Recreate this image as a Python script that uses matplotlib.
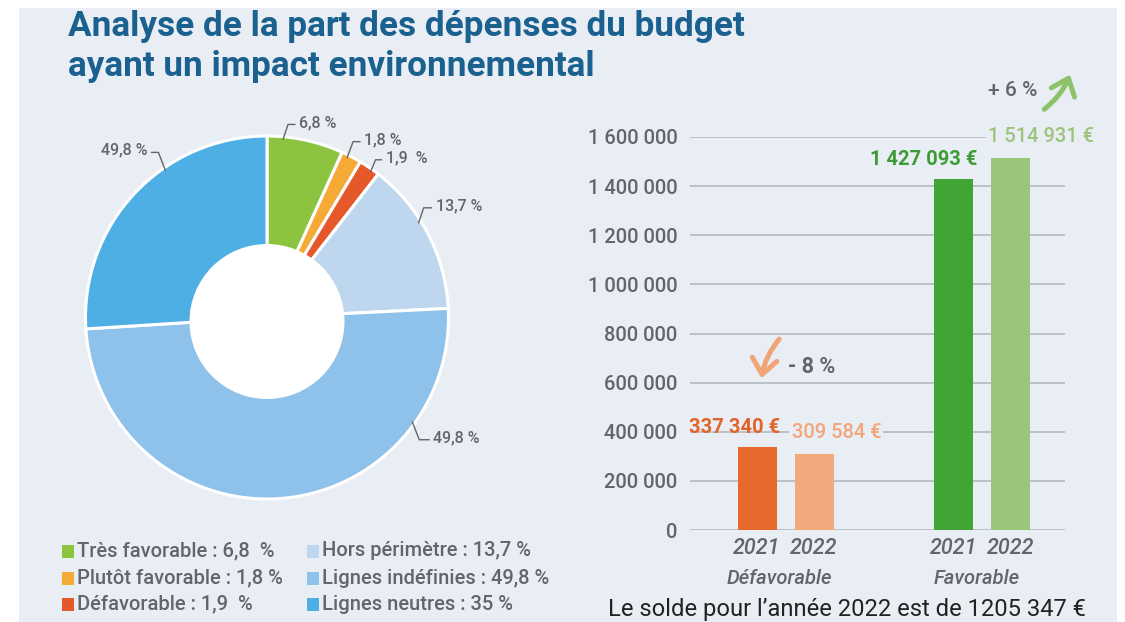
import matplotlib
matplotlib.use("Agg")
import matplotlib.pyplot as plt
from matplotlib import font_manager as fm
from matplotlib.patches import Rectangle, Circle, FancyArrowPatch
import numpy as np

# ---------------------------------------------------------------- data
pie_categories = ["Très favorable", "Plutôt favorable", "Défavorable",
                  "Hors périmètre", "Lignes indéfinies", "Lignes neutres"]
legend_texts = ["Très favorable : 6,8  %", "Plutôt favorable : 1,8 %",
                "Défavorable : 1,9  %", "Hors périmètre : 13,7 %",
                "Lignes indéfinies : 49,8 %", "Lignes neutres : 35 %"]
pie_shares = [6.8, 1.8, 1.9, 13.7, 49.8, 26.0]
slice_texts = ["6,8 %", "1,8 %", "1,9  %", "13,7 %", "49,8 %", "49,8 %"]

bar_groups = ["Défavorable", "Favorable"]
years = ["2021", "2022"]
defavorable = [337340, 309584]
favorable = [1427093, 1514931]
changes = ["- 8 %", "+ 6 %"]
y_ticks = [0, 200000, 400000, 600000, 800000, 1000000, 1200000, 1400000, 1600000]
balance_text = "Le solde pour l\u2019année 2022 est de 1205 347 €"
title_lines = ["Analyse de la part des dépenses du budget",
               "ayant un impact environnemental"]

# ---------------------------------------------------------------- style
W, H, DPI = 1125, 622, 100
PANEL = "#e9edf4"
TITLE_C = "#1b6190"
GRAY = "#62666a"
pie_colors = ["#8cc43f", "#f6aa36", "#e4582a", "#bfd7ee", "#8fc2ea", "#4eafe4"]
bar_colors = [["#e8692e", "#f4a97c"], ["#40a535", "#9bc57c"]]
label_colors = [["#e3632b", "#f3a67b"], ["#3d9c35", "#9cc47d"]]


def pick_family():
    avail = {f.name for f in fm.fontManager.ttflist}
    for name in ["Roboto", "Liberation Sans", "DejaVu Sans"]:
        if name in avail:
            return name
    return "DejaVu Sans"


FAMILY = pick_family()
plt.rcParams["font.family"] = [FAMILY, "DejaVu Sans"]


def fx(x):
    return x / W


def fy(y):
    return 1 - y / H


fig = plt.figure(figsize=(W / DPI, H / DPI), dpi=DPI, facecolor="white")
renderer = fig.canvas.get_renderer()
fig.patches.append(Rectangle((fx(19), 0), fx(1117) - fx(19), fy(8),
                             transform=fig.transFigure, facecolor=PANEL,
                             edgecolor="none", zorder=-10))


def fit(t, width_px):
    bb = t.get_window_extent(renderer)
    t.set_fontsize(t.get_fontsize() * width_px / bb.width)
    return t


# ---------------------------------------------------------------- title
t1 = fig.text(fx(68), fy(36), title_lines[0], color=TITLE_C, fontsize=24,
              fontweight="bold", va="baseline", ha="left")
fit(t1, 677)
t2 = fig.text(fx(68), fy(76), title_lines[1], color=TITLE_C,
              fontsize=t1.get_fontsize(), fontweight="bold",
              va="baseline", ha="left")

# ---------------------------------------------------------------- donut
CX, CY, R = 267, 317.5, 181.5
ax_pie = fig.add_axes([fx(CX - R), fy(CY + R), 2 * R / W, 2 * R / H])
wedges, _ = ax_pie.pie(pie_shares, colors=pie_colors, startangle=90,
                       counterclock=False, radius=1,
                       wedgeprops=dict(edgecolor="white", linewidth=2.2))
for w in wedges:
    w.set_clip_on(False)
ax_pie.set_xlim(-1, 1)
ax_pie.set_ylim(-1, 1)
ax_pie.set_aspect("equal")
ax_pie.axis("off")
ax_pie.add_patch(Circle((0, -0.022), 0.427, facecolor="white",
                        edgecolor="none", zorder=5))

# leader layout: position along wedge (clockwise), elbow offset px, run px
leaders = [(0.21, (5, 15), 7), (0.33, (6, 16), 7), (0.65, (5, 12), 6),
           (0.41, (5, 15), 8), (0.215, (7, -18), 10), (0.63, (-7, 18), -7)]
for w, text, (frac, (ex, ey), run) in zip(wedges, slice_texts, leaders):
    ang = np.deg2rad(w.theta2 - frac * (w.theta2 - w.theta1))
    ax0, ay0 = 0.985 * np.cos(ang), 0.985 * np.sin(ang)
    bx, by = ax0 + ex / R, ay0 + ey / R
    cx_, cy_ = bx + run / R, by
    ax_pie.plot([ax0, bx, cx_], [ay0, by, cy_], color=GRAY, lw=1.0,
                clip_on=False, zorder=6, solid_capstyle="round")
    ha = "left" if run > 0 else "right"
    tx = cx_ + np.sign(run) * 4 / R
    ax_pie.text(tx, cy_ + 2 / R, text, ha=ha, va="center", color=GRAY,
                fontsize=11.5, fontweight="medium", clip_on=False)

# ---------------------------------------------------------------- legend
rows = [551, 578, 604]
cols = [(62, 77), (307, 322)]
for i, (txt, col) in enumerate(zip(legend_texts, pie_colors)):
    sx, tx = cols[i // 3]
    yy = rows[i % 3]
    fig.patches.append(Rectangle((fx(sx), fy(yy + 6.5)), 12 / W, 13 / H,
                                 transform=fig.transFigure, facecolor=col,
                                 edgecolor="none"))
    fig.text(fx(tx), fy(yy), txt, color=GRAY, fontsize=14.5,
             fontweight="medium", va="center", ha="left")

# ---------------------------------------------------------------- bars
X0, X1, Y0, Y1 = 690, 1065, 530, 137
ax = fig.add_axes([fx(X0), fy(Y0), (X1 - X0) / W, (Y0 - Y1) / H])
ax.set_facecolor("none")
ax.set_ylim(0, 1600000)
gap = 197.0
ax.set_xlim((X0 - 785.5) / gap, (X1 - 785.5) / gap)
offset, width = 28.5 / gap, 39 / gap
series = [defavorable, favorable]
xpos, xlabels = [], []
for g, vals in enumerate(series):
    for k, v in enumerate(vals):
        x = g + (k - 0.5) * 2 * offset
        ax.bar(x, v, width=width, color=bar_colors[g][k], zorder=3)
        xpos.append(x)
        xlabels.append(years[k])
        label = f"{v:,}".replace(",", " ") + " €"
        if k == 0:
            ax.annotate(label, xy=(x + width / 2, v), xytext=(4, 20),
                        textcoords="offset pixels", ha="right", va="center",
                        color=label_colors[g][k], fontsize=14.5,
                        fontweight="bold", zorder=4)
        else:
            ax.annotate(label, xy=(x - width / 2, v), xytext=(-3, 21),
                        textcoords="offset pixels", ha="left", va="center",
                        color=label_colors[g][k], fontsize=14.5,
                        fontweight="medium", zorder=4,
                        bbox=dict(facecolor=PANEL, edgecolor="none", pad=1.5))

ax.set_yticks(y_ticks)
ax.set_yticklabels([f"{v:,}".replace(",", " ") for v in y_ticks],
                   fontweight="medium")
ax.set_xticks(xpos)
ax.set_xticklabels(xlabels, fontstyle="italic", fontweight="medium")
ax.tick_params(axis="y", length=0, pad=9, labelsize=14.5, labelcolor=GRAY)
ax.tick_params(axis="x", length=0, pad=6, labelsize=15.5, labelcolor=GRAY)
for s in ax.spines.values():
    s.set_visible(False)
ax.grid(axis="y", color="#b4b9c0", lw=1.2, zorder=0)
ax.set_axisbelow(True)

for g, name in enumerate(bar_groups):
    ax.annotate(name, xy=(g - 0.03, H - 578), xycoords=("data", "figure pixels"),
                ha="center", va="center", fontsize=14.5, fontstyle="italic",
                fontweight="medium", color=GRAY)

# change annotations with curved arrows
fig.text(fx(812), fy(367), changes[0], color=GRAY, fontsize=15.5,
         fontweight="bold", ha="center", va="center")
fig.text(fx(1013), fy(90), changes[1], color=GRAY, fontsize=15,
         fontweight="medium", ha="center", va="center")
arr1 = FancyArrowPatch((fx(781), fy(337)), (fx(761), fy(381)),
                       transform=fig.transFigure, connectionstyle="arc3,rad=0.15",
                       arrowstyle="->,head_length=0.55,head_width=0.45",
                       color="#f1a476", lw=3.6, mutation_scale=20)
arr2 = FancyArrowPatch((fx(1042), fy(111)), (fx(1071), fy(72)),
                       transform=fig.transFigure, connectionstyle="arc3,rad=0.15",
                       arrowstyle="->,head_length=0.55,head_width=0.45",
                       color="#8cc36a", lw=3.6, mutation_scale=20)
fig.patches.extend([arr1, arr2])

# balance sentence
tb = fig.text(fx(608), fy(616), balance_text, color="#222222", fontsize=17,
              ha="left", va="baseline")
fit(tb, 480)

fig.savefig("out.png", dpi=DPI, facecolor="white")
